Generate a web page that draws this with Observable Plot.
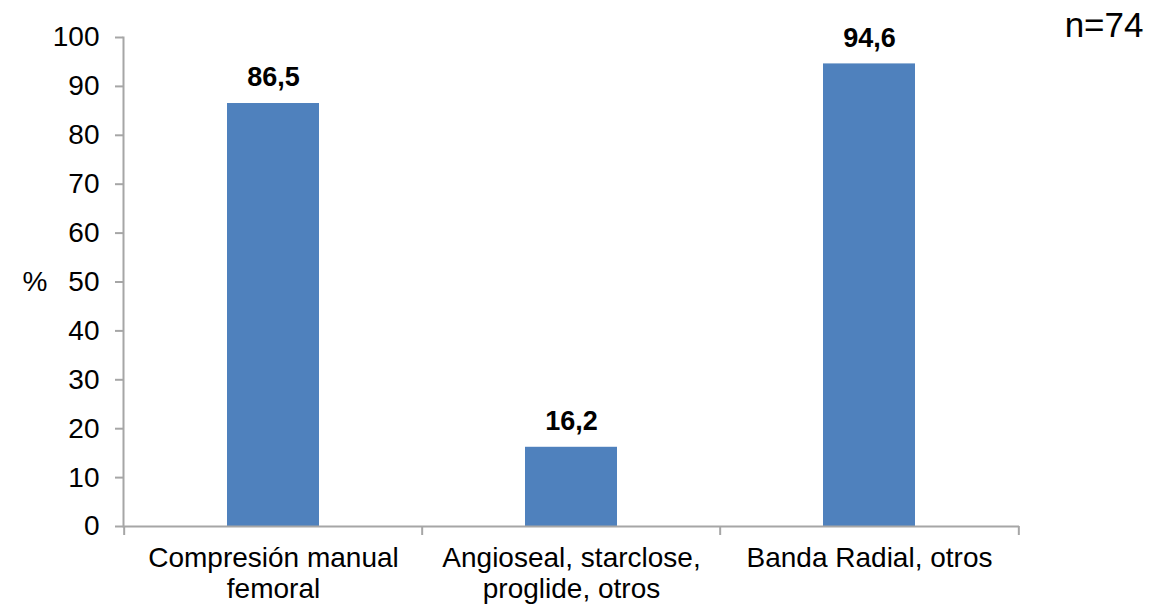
<!DOCTYPE html>
<html>
<head>
<meta charset="utf-8">
<script src="https://cdn.jsdelivr.net/npm/d3@7"></script>
<script src="https://cdn.jsdelivr.net/npm/@observablehq/plot@0.6"></script>
<style>
  html, body { margin: 0; padding: 0; background: #fff; }
</style>
</head>
<body>
<div id="chart"></div>
<script>
const categories = ["Compresión manual femoral", "Angioseal, starclose, proglide, otros", "Banda Radial, otros"];
const tickLabels = ["Compresión manual\nfemoral", "Angioseal, starclose,\nproglide, otros", "Banda Radial, otros"];
const values = [86.5, 16.2, 94.6];
const valueLabels = ["86,5", "16,2", "94,6"];
const yTicks = [0, 10, 20, 30, 40, 50, 60, 70, 80, 90, 100];
const yLabel = "%";
const note = "n=74";

const data = categories.map((c, i) => ({cat: c, value: values[i], label: valueLabels[i]}));

const W = 1153, H = 607, ML = 123, MR = 134, MT = 37, MB = 81;
const half = (W - ML - MR) / categories.length / 2;
const axisColor = "#a6a6a6";
const font = "'Liberation Sans', Arial, sans-serif";

const chart = Plot.plot({
  width: W, height: H,
  marginLeft: ML, marginRight: MR, marginTop: MT, marginBottom: MB,
  x: {domain: categories, padding: 0, axis: null},
  y: {domain: [0, 100], axis: null},
  style: {fontFamily: font, fontSize: "28px", color: "#000", background: "#fff"},
  marks: [
    Plot.barY(data, {x: "cat", y: "value", fill: "#4F81BD", insetLeft: 103, insetRight: 103}),
    Plot.ruleY([0], {stroke: axisColor, strokeWidth: 2}),
    Plot.frame({anchor: "left", stroke: axisColor, strokeWidth: 2}),
    Plot.axisY({ticks: yTicks, tickSize: 8, tickPadding: 16, fontSize: 28, stroke: axisColor, strokeWidth: 2, label: null, tickFormat: d => String(d)}),
    Plot.axisX({tickSize: 0, tickPadding: 19, fontSize: 28, lineHeight: 1.1, label: null,
      tickFormat: d => tickLabels[categories.indexOf(d)]}),
    Plot.ruleX(categories, {x: d => d, dx: -half, y1: 0, y2: 0, insetBottom: -9, stroke: axisColor, strokeWidth: 2}),
    Plot.ruleX([categories[categories.length - 1]], {x: d => d, dx: half, y1: 0, y2: 0, insetBottom: -9, stroke: axisColor, strokeWidth: 2}),
    Plot.text(data, {x: "cat", y: "value", text: "label", dy: -26, fontWeight: "bold", fontSize: 27, fill: "#000"}),
    Plot.text([yLabel], {frameAnchor: "left", textAnchor: "start", dx: -101, fontSize: 28, fill: "#000"}),
    Plot.text([note], {frameAnchor: "top-right", textAnchor: "end", dx: 124, dy: -25, fontSize: 35, fill: "#000"})
  ]
});
document.getElementById("chart").appendChild(chart);
</script>
</body>
</html>
